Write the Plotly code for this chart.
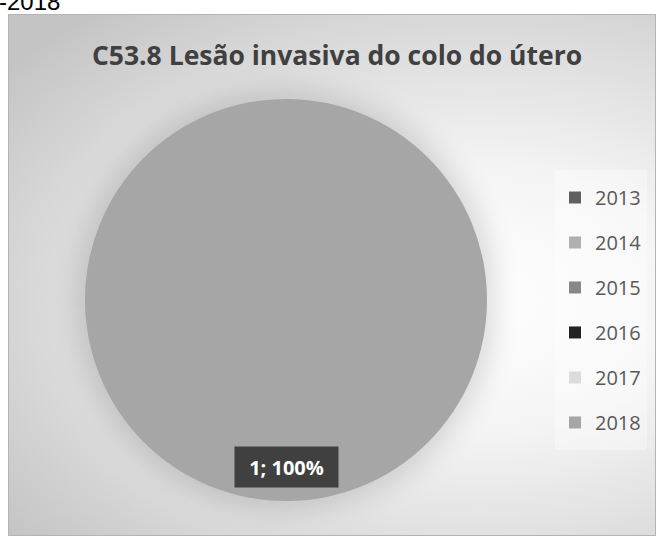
import base64
import plotly.graph_objects as go

# Cases per diagnosis year
years = ["2013", "2014", "2015", "2016", "2017", "2018"]
cases = [0, 0, 0, 0, 0, 1]
year_colors = ["#606060", "#b0b0b0", "#888888", "#222222", "#dcdcdc", "#a6a6a6"]

title_text = "C53.8 Lesão invasiva do colo do útero"
caption_text = "-2018"

W, H = 656, 536
frame_x0, frame_y0 = 8, 14          # chart area top-left (px)
pie_cx, pie_cy, pie_r = 286, 300, 201

domain_x = [(pie_cx - pie_r) / W, (pie_cx + pie_r) / W]
domain_y = [1 - (pie_cy + pie_r) / H, 1 - (pie_cy - pie_r) / H]

# Chart-area fill: radial grey gradient, soft shadow behind the pie, thin frame
fw, fh = W - frame_x0, H - frame_y0
gx, gy = 472, 286
scx, scy = pie_cx - frame_x0, pie_cy - frame_y0
svg = f"""<svg xmlns="http://www.w3.org/2000/svg" width="{fw}" height="{fh}" viewBox="0 0 {fw} {fh}">
<defs>
<radialGradient id="g" gradientUnits="userSpaceOnUse" cx="{gx}" cy="{gy}" r="600"
 gradientTransform="translate({gx} {gy}) scale(1 0.63) translate({-gx} {-gy})">
<stop offset="0" stop-color="#ffffff"/>
<stop offset="0.35" stop-color="#f4f4f4"/>
<stop offset="0.75" stop-color="#d8d8d8"/>
<stop offset="1" stop-color="#c4c4c4"/>
</radialGradient>
<filter id="b" x="-50%" y="-50%" width="200%" height="200%"><feGaussianBlur stdDeviation="12"/></filter>
</defs>
<rect width="{fw}" height="{fh}" fill="url(#g)"/>
<circle cx="{scx}" cy="{scy}" r="{pie_r + 10}" fill="#000" fill-opacity="0.12" filter="url(#b)"/>
<rect x="0.5" y="0.5" width="{fw - 1}" height="{fh - 1}" fill="none" stroke="#b4b4b4"/>
</svg>"""
bg_uri = "data:image/svg+xml;base64," + base64.b64encode(svg.encode("utf-8")).decode("ascii")

# Legend rows are spaced by a large legend font; the visible year text is 20px
legend_labels = [f"<span style='font-size:20px;baseline-shift:5px'>{y}</span>" for y in years]

fig = go.Figure(go.Pie(
    labels=legend_labels, values=cases,
    marker=dict(colors=year_colors, line=dict(width=0)),
    textinfo="none", hoverinfo="value+percent",
    sort=False, direction="clockwise",
    domain=dict(x=domain_x, y=domain_y),
))

total = sum(cases)
for year, n in zip(years, cases):
    if n > 0:
        fig.add_annotation(
            x=pie_cx / W, y=1 - (pie_cy + pie_r - 13) / H, xref="paper", yref="paper",
            text=f"<b>{n}; {n / total:.0%}</b>", showarrow=False,
            font=dict(family="Open Sans", size=20, color="#ffffff"),
            bgcolor="#404040", width=95, height=32, borderpad=4,
        )

fig.add_annotation(
    x=0, y=1, xref="paper", yref="paper", xanchor="left", yanchor="middle",
    xshift=-3, yshift=-1.5, text=caption_text, showarrow=False,
    font=dict(family="Liberation Sans", size=24, color="#000000"),
)

fig.update_layout(
    width=W, height=H, margin=dict(l=0, r=0, t=0, b=0),
    paper_bgcolor="#ffffff",
    title=dict(text=f"<b>{title_text}</b>", x=337 / W, xanchor="center",
               y=1 - 56 / H, yanchor="middle",
               font=dict(family="Open Sans", size=26.5, color="#404040")),
    legend=dict(x=555 / W, xanchor="left", y=1 - 170 / H, yanchor="top",
                font=dict(family="Open Sans", size=32.3, color="#595959"),
                bgcolor="rgba(255,255,255,0.35)"),
    images=[dict(source=bg_uri, xref="paper", yref="paper",
                 x=frame_x0 / W, y=1 - frame_y0 / H,
                 sizex=fw / W, sizey=fh / H, sizing="stretch",
                 xanchor="left", yanchor="top", layer="below")],
)

fig.write_html("out.html")
